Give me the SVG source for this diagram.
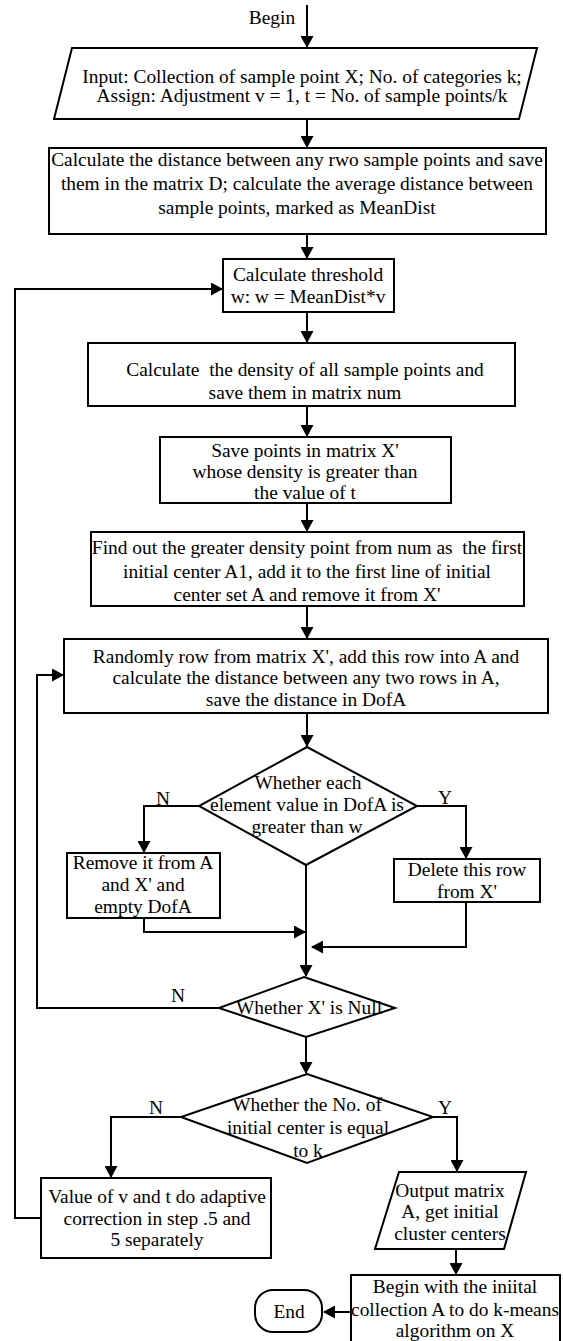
<svg xmlns="http://www.w3.org/2000/svg" width="563" height="1341" viewBox="0 0 563 1341">
<style>
.b{fill:#fff;stroke:#000;stroke-width:2}
.c{fill:none;stroke:#000;stroke-width:2}
text{font-family:"Liberation Serif","Times New Roman",serif;font-size:19.4px;fill:#000;text-anchor:middle}
</style>
<defs>
<marker id="ah" markerUnits="userSpaceOnUse" markerWidth="13" markerHeight="13" viewBox="0 0 12 13" refX="11" refY="6.5" orient="auto">
<path d="M0,0 L12,6.5 L0,13 z" fill="#000"/>
</marker>
</defs>
<rect width="563" height="1341" fill="#fff"/>
<g id="connectors">
<path class="c" marker-end="url(#ah)" d="M307,5 V47"/>
<path class="c" marker-end="url(#ah)" d="M307,119 V147"/>
<path class="c" marker-end="url(#ah)" d="M307,234 V258"/>
<path class="c" marker-end="url(#ah)" d="M307,312 V342"/>
<path class="c" marker-end="url(#ah)" d="M307,406 V436"/>
<path class="c" marker-end="url(#ah)" d="M307,503 V531"/>
<path class="c" marker-end="url(#ah)" d="M307,606 V638"/>
<path class="c" marker-end="url(#ah)" d="M307,713 V746"/>
<path class="c" marker-end="url(#ah)" d="M199,806 H144 V852"/>
<path class="c" marker-end="url(#ah)" d="M417,806 H466 V858"/>
<path class="c" marker-end="url(#ah)" d="M306,865 V976"/>
<path class="c" marker-end="url(#ah)" d="M144,918 V932 H305"/>
<path class="c" marker-end="url(#ah)" d="M466,902 V947 H312"/>
<path class="c" marker-end="url(#ah)" d="M219,1008 H37 V675 H63"/>
<path class="c" marker-end="url(#ah)" d="M306,1037 V1073"/>
<path class="c" marker-end="url(#ah)" d="M181,1117 H111 V1177"/>
<path class="c" marker-end="url(#ah)" d="M433,1117 H457 V1171"/>
<path class="c" marker-end="url(#ah)" d="M41,1218 H15 V289 H222"/>
<path class="c" marker-end="url(#ah)" d="M456,1249 V1274"/>
<path class="c" marker-end="url(#ah)" d="M351,1312 H324"/>
</g>
<g id="begin-label"><text x="272" y="24">Begin</text></g>
<g id="input">
<polygon class="b" points="72,48 537,48 519,119 54,119"/>
<text x="302" y="83">Input: Collection of sample point X; No. of categories k;</text>
<text x="302" y="102">Assign: Adjustment v = 1, t = No. of sample points/k</text>
</g>
<g id="distance">
<rect class="b" x="49" y="148" width="497" height="86"/>
<text x="297" y="166">Calculate the distance between any rwo sample points and save</text>
<text x="297" y="190">them in the matrix D; calculate the average distance between</text>
<text x="297" y="214">sample points, marked as MeanDist</text>
</g>
<g id="threshold">
<rect class="b" x="223" y="259" width="171" height="53"/>
<text x="308" y="281">Calculate threshold</text>
<text x="308" y="303">w: w = MeanDist*v</text>
</g>
<g id="density">
<rect class="b" x="88" y="343" width="427" height="63"/>
<text x="305" y="376" xml:space="preserve">Calculate  the density of all sample points and</text>
<text x="305" y="399">save them in matrix num</text>
</g>
<g id="save-points">
<rect class="b" x="160" y="437" width="291" height="66"/>
<text x="305" y="457">Save points in matrix X'</text>
<text x="305" y="478">whose density is greater than</text>
<text x="305" y="499">the value of t</text>
</g>
<g id="first-center">
<rect class="b" x="91" y="532" width="433" height="74"/>
<text x="307" y="554" xml:space="preserve">Find out the greater density point from num as  the first</text>
<text x="307" y="578">initial center A1, add it to the first line of initial</text>
<text x="307" y="601">center set A and remove it from X'</text>
</g>
<g id="random-row">
<rect class="b" x="64" y="639" width="484" height="74"/>
<text x="306" y="663">Randomly row from matrix X', add this row into A and</text>
<text x="306" y="684">calculate the distance between any two rows in A,</text>
<text x="306" y="706">save the distance in DofA</text>
</g>
<g id="decision-dofa">
<polygon class="b" points="307,747 417,806 306,865 199,806"/>
<text x="308" y="789">Whether each</text>
<text x="307" y="811">element value in DofA is</text>
<text x="307" y="833">greater than w</text>
<text x="163" y="805">N</text>
<text x="445" y="804">Y</text>
</g>
<g id="remove">
<rect class="b" x="67" y="853" width="153" height="65"/>
<text x="143" y="869">Remove it from A</text>
<text x="143" y="891">and X' and</text>
<text x="143" y="913">empty DofA</text>
</g>
<g id="delete">
<rect class="b" x="394" y="859" width="146" height="43"/>
<text x="467" y="876">Delete this row</text>
<text x="467" y="898">from X'</text>
</g>
<g id="decision-null">
<polygon class="b" points="304,977 395,1008 306,1037 219,1008"/>
<text x="309" y="1014">Whether X' is Null</text>
<text x="178" y="1002">N</text>
</g>
<g id="decision-k">
<polygon class="b" points="307,1074 433,1117 307,1163 181,1117"/>
<text x="307" y="1111">Whether the No. of</text>
<text x="308" y="1134">initial center is equal</text>
<text x="308" y="1157">to k</text>
<text x="156" y="1114">N</text>
<text x="445" y="1114">Y</text>
</g>
<g id="adjust">
<rect class="b" x="41" y="1178" width="230" height="80"/>
<text x="157" y="1203">Value of v and t do adaptive</text>
<text x="157" y="1225">correction in step .5 and</text>
<text x="157" y="1246">5 separately</text>
</g>
<g id="output">
<polygon class="b" points="399,1172 526,1172 504,1249 375,1249"/>
<text x="450" y="1197">Output matrix</text>
<text x="450" y="1218">A, get initial</text>
<text x="450" y="1240">cluster centers</text>
</g>
<g id="kmeans">
<rect class="b" x="351" y="1275" width="209" height="72"/>
<text x="455" y="1293">Begin with the iniital</text>
<text x="455" y="1316">collection A to do k-means</text>
<text x="455" y="1337">algorithm on X</text>
</g>
<g id="end">
<rect class="b" x="255" y="1290" width="67" height="42" rx="18" ry="18"/>
<text x="289" y="1318">End</text>
</g>
</svg>
